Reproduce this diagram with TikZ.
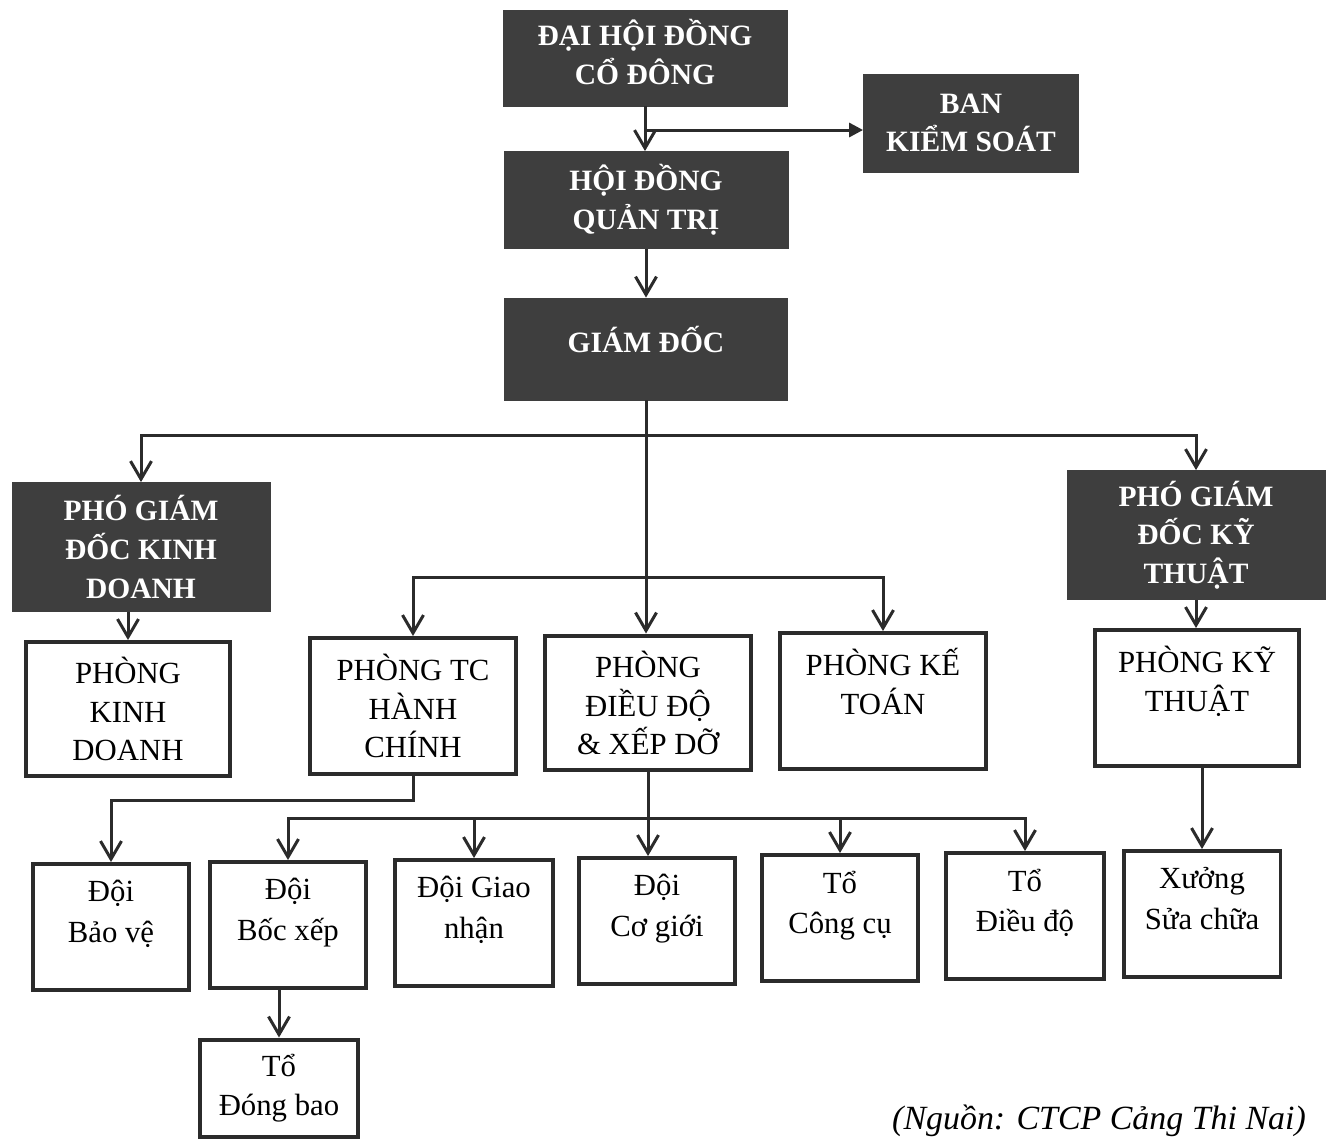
\documentclass[tikz,border=0pt]{standalone}
\usepackage{fontspec}
\setmainfont{Liberation Serif}
\usetikzlibrary{arrows.meta}
\definecolor{CNDark}{HTML}{3E3E3E}
\definecolor{CNLine}{HTML}{2B2B2B}
\newcommand{\headfont}{\fontsize{16.8}{22}\selectfont\bfseries}
\newcommand{\unitfont}{\fontsize{17.5}{22}\selectfont}
\newcommand{\teamfont}{\fontsize{17.5}{23}\selectfont}
\newcommand{\notefont}{\fontsize{19.3}{22}\selectfont\itshape}

\begin{document}
\begin{tikzpicture}[x=0.02cm,y=-0.02cm,
  headbox/.style={draw=CNDark,fill=CNDark,line width=.5pt,text=white,font=\headfont,align=center,inner sep=0pt},
  unitbox/.style={draw=CNLine,fill=white,line width=.08cm,font=\unitfont,align=center,inner sep=0pt,minimum width=4.12cm,minimum height=2.72cm},
  teambox/.style={unitbox,font=\teamfont,minimum width=3.14cm,minimum height=2.52cm,text depth=18pt},
  link/.style={draw=CNLine,line width=.06cm,-{Straight Barb[length=.36cm,width=.42cm]}},
  feed/.style={draw=CNLine,line width=.06cm,-{Triangle[length=.28cm,width=.28cm]}}]
\path[use as bounding box] (0,0) rectangle (1332,1140);
\fill[white] (0,0) rectangle (1332,1140);

\node[headbox,minimum width=5.68cm,minimum height=1.92cm,text depth=.24cm] (dhdcd) at (645,58) {ĐẠI HỘI ĐỒNG\\CỔ ĐÔNG};
\node[headbox,minimum width=4.30cm,minimum height=1.96cm] (bks) at (971,123) {BAN\\KIỂM SOÁT};
\node[headbox,minimum width=5.68cm,minimum height=1.94cm] (hdqt) at (646,200) {HỘI ĐỒNG\\QUẢN TRỊ};
\node[headbox,minimum width=5.66cm,minimum height=2.04cm,text depth=.4cm] (gd) at (646,349) {GIÁM ĐỐC};
\node[headbox,minimum width=5.16cm,minimum height=2.58cm] (pgdkd) at (141,547) {PHÓ GIÁM\\ĐỐC KINH\\DOANH};
\node[headbox,minimum width=5.16cm,minimum height=2.58cm] (pgdkt) at (1196,535) {PHÓ GIÁM\\ĐỐC KỸ\\THUẬT};

\node[unitbox,minimum width=4.10cm,minimum height=2.68cm] (pkd) at (128,709) {PHÒNG\\KINH\\DOANH};
\node[unitbox] (ptc) at (413,706) {PHÒNG TC\\HÀNH\\CHÍNH};
\node[unitbox,minimum height=2.70cm] (pdd) at (648,703) {PHÒNG\\ĐIỀU ĐỘ\\\& XẾP DỠ};
\node[unitbox] (pkt) at (883,701) {PHÒNG KẾ\\TOÁN\\~};
\node[unitbox,minimum width=4.10cm] (pkth) at (1197,698) {PHÒNG KỸ\\THUẬT\\~};

\node[teambox] (bv) at (111,927) {Đội\\Bảo vệ};
\node[teambox] (bx) at (288,925) {Đội\\Bốc xếp};
\node[teambox,minimum width=3.16cm] (gn) at (474,923) {Đội Giao\\nhận};
\node[teambox] (cg) at (657,921) {Đội\\Cơ giới};
\node[teambox] (cc) at (840,918) {Tổ\\Công cụ};
\node[teambox,minimum width=3.16cm] (dd) at (1025,916) {Tổ\\Điều độ};
\node[teambox] (xsc) at (1202,914) {Xưởng\\Sửa chữa};
\node[unitbox,minimum width=3.16cm,minimum height=1.94cm] (db) at (279,1088) {Tổ\\Đóng bao};

\node[anchor=base east,font=\notefont] (src) at (1312,1129) {(Nguồn: CTCP Cảng Thi Nai)};

\draw[link] (dhdcd.south) -- (dhdcd.south |- hdqt.north);
\coordinate (split) at (dhdcd.south |- 0,130);
\draw[feed] (split) -- (split -| bks.west);
\draw[link] (hdqt.south) -- (hdqt.south |- gd.north);
\draw[link] (gd.south) -- ++(0,35) coordinate (topbus) -| (pgdkd.north);
\draw[link] (topbus) -| (pgdkt.north);
\draw[link] (topbus) -- (topbus |- pdd.north);
\coordinate (midbus) at (topbus |- 0,577);
\draw[link] (midbus) -| (ptc.north);
\draw[link] (midbus) -| (pkt.north);
\draw[link] (pkd.north |- pgdkd.south) -- (pkd.north);
\draw[link] (pgdkt.south) -- (pgdkt.south |- pkth.north);
\draw[link] (ptc.south) -- ++(0,25) -| (bv.north);
\draw[link] (pdd.south) -- (pdd.south |- cg.north);
\coordinate (lowbus) at (pdd.south |- 0,818);
\draw[link] (lowbus) -| (bx.north);
\draw[link] (lowbus) -| (gn.north);
\draw[link] (lowbus) -| (cc.north);
\draw[link] (lowbus) -| (dd.north);
\draw[link] (xsc.north |- pkth.south) -- (xsc.north);
\draw[link] (db.north |- bx.south) -- (db.north);
\end{tikzpicture}
\end{document}
